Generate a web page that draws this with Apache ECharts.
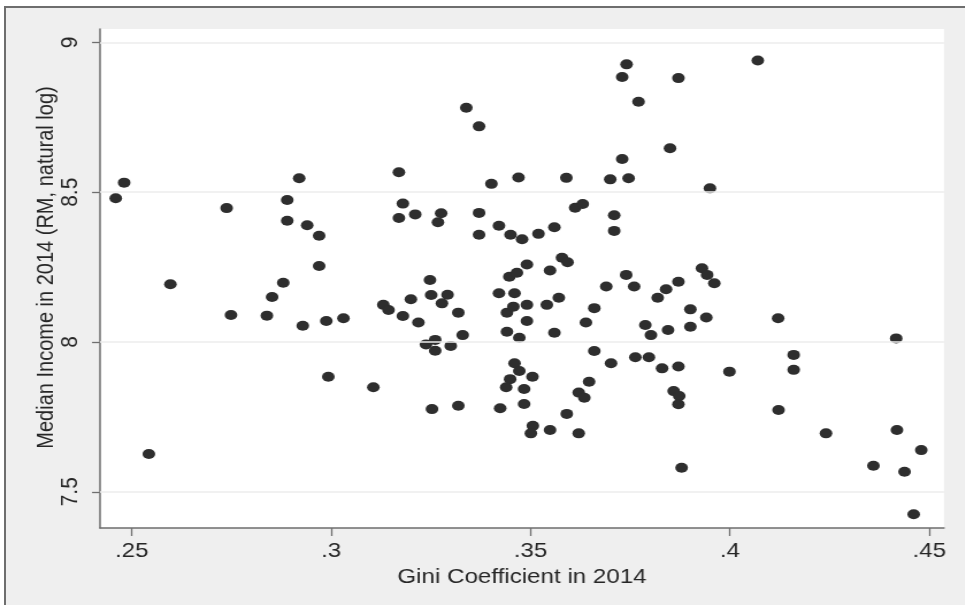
<!DOCTYPE html>
<html>
<head>
<meta charset="utf-8">
<script src="https://cdn.jsdelivr.net/npm/echarts@6/dist/echarts.min.js"></script>
<style>
html,body{margin:0;padding:0;background:#ffffff;overflow:hidden;width:965px;height:607px;}
#frame{position:absolute;left:4px;top:6px;width:961px;height:599px;background:#efefef;border-top:2px solid #6e6e6e;border-left:2px solid #6e6e6e;box-sizing:border-box;}
#chart{position:absolute;left:0;top:0;height:607px;transform-origin:0 0;}
</style>
</head>
<body>
<div id="frame"></div>
<div id="chart"></div>
<script>
// Gini coefficient in 2014 (x)
const giniValues = [
0.246,0.2481,0.2738,0.2597,0.289,0.292,0.289,0.294,0.297,0.297,
0.288,0.2852,0.2749,0.2839,0.2929,0.2988,0.2993,0.2543,0.3741,0.373,
0.3771,0.3339,0.3371,0.373,0.317,0.3402,0.347,0.359,0.37,0.3746,
0.318,0.317,0.3211,0.3276,0.3268,0.3371,0.3371,0.3421,0.345,0.3479,
0.352,0.356,0.3612,0.3631,0.371,0.371,0.3491,0.3447,0.3466,0.3549,
0.3579,0.3593,0.3248,0.32,0.3251,0.3292,0.3278,0.3131,0.3144,0.3421,
0.346,0.374,0.376,0.369,0.407,0.3871,0.385,0.395,0.393,0.3943,
0.3961,0.3871,0.384,0.3819,0.318,0.3219,0.3319,0.333,0.3031,0.3238,
0.3261,0.3261,0.33,0.3106,0.3253,0.3319,0.3424,0.3484,0.3441,0.3457,
0.3491,0.3541,0.3571,0.3491,0.3441,0.3472,0.356,0.3639,0.366,0.366,
0.3702,0.3763,0.3797,0.346,0.3472,0.3449,0.3439,0.3505,0.3484,0.3647,
0.3621,0.3635,0.3591,0.3506,0.3501,0.3549,0.3621,0.3901,0.3941,0.3901,
0.3845,0.3788,0.3802,0.383,0.3871,0.3859,0.3873,0.3871,0.3879,0.3999,
0.4121,0.416,0.416,0.4122,0.4241,0.4417,0.4419,0.448,0.436,0.4438,
0.4461
];
// Median income in 2014 (RM, natural log) (y)
const incomeValues = [
8.480,8.532,8.447,8.193,8.474,8.547,8.405,8.390,8.355,8.254,
8.198,8.150,8.090,8.088,8.054,8.070,7.884,7.626,8.927,8.885,
8.802,8.782,8.720,8.611,8.567,8.528,8.549,8.548,8.543,8.547,
8.462,8.414,8.426,8.430,8.400,8.431,8.358,8.388,8.358,8.343,
8.361,8.383,8.448,8.461,8.423,8.371,8.259,8.218,8.231,8.239,
8.281,8.266,8.207,8.143,8.157,8.158,8.129,8.124,8.107,8.163,
8.163,8.224,8.185,8.185,8.940,8.881,8.647,8.513,8.246,8.224,
8.196,8.201,8.176,8.148,8.087,8.065,8.098,8.023,8.079,7.992,
8.007,7.971,7.987,7.849,7.776,7.787,7.779,7.793,8.098,8.118,
8.124,8.124,8.148,8.070,8.034,8.014,8.031,8.065,8.113,7.970,
7.929,7.949,7.949,7.929,7.903,7.876,7.849,7.884,7.843,7.867,
7.831,7.814,7.760,7.720,7.695,7.706,7.695,8.109,8.082,8.051,
8.040,8.057,8.023,7.912,7.918,7.836,7.820,7.792,7.580,7.901,
8.079,7.957,7.907,7.773,7.695,8.012,7.706,7.639,7.587,7.567,
7.425
];
const xTicks = [0.25, 0.3, 0.35, 0.4, 0.45];
const yTicks = [7.5, 8, 8.5, 9];
const xTitle = 'Gini Coefficient in 2014';
const yTitle = 'Median Income in 2014 (RM, natural log)';

const S = 1.15;
const W = 965 / S;
const el = document.getElementById('chart');
el.style.width = W + 'px';
el.style.transform = 'scaleX(' + S + ')';

const points = giniValues.map((g, i) => [g, incomeValues[i]]);
const fmt = v => String(v).replace(/^0\./, '.');
const axisCol = '#6e6e6e';
const textCol = '#262626';
const font = '"Liberation Sans", Arial, sans-serif';

const chart = echarts.init(el, null, {renderer: 'canvas', width: W, height: 607});
chart.setOption({
  animation: false,
  backgroundColor: 'transparent',
  grid: {
    left: 100 / S, right: W - 944 / S, top: 29, bottom: 79,
    show: true, backgroundColor: '#ffffff', borderWidth: 0
  },
  xAxis: {
    type: 'value', min: 0.24205, max: 0.4537,
    name: xTitle, nameLocation: 'middle', nameGap: 32,
    nameTextStyle: {fontFamily: font, fontSize: 21, color: textCol},
    axisLine: {show: true, onZero: false, lineStyle: {color: axisCol, width: 1.5}},
    axisTick: {show: true, length: 8, customValues: xTicks, lineStyle: {color: axisCol, width: 1.3}},
    axisLabel: {customValues: xTicks, formatter: fmt, margin: 13, fontFamily: font, fontSize: 21, color: textCol},
    splitLine: {show: false}
  },
  yAxis: {
    type: 'value', min: 7.379, max: 9.045,
    name: yTitle, nameLocation: 'middle', nameGap: 36, nameMoveOverlap: false,
    nameTextStyle: {fontFamily: font, fontSize: 20, color: textCol, padding: [0, 0, 0, 22]},
    axisLine: {show: true, onZero: false, lineStyle: {color: axisCol, width: 1.5}},
    axisTick: {show: true, length: 8 / S, customValues: yTicks, lineStyle: {color: axisCol, width: 1.3}},
    axisLabel: {customValues: yTicks, rotate: 90, margin: 15, formatter: v => String(v), fontFamily: font, fontSize: 21, color: textCol},
    splitLine: {show: false}
  },
  series: [{
    type: 'scatter',
    data: points,
    symbol: 'circle',
    symbolSize: [11, 10],
    itemStyle: {color: '#2e2e2e', opacity: 1},
    z: 3,
    markLine: {
      silent: true, symbol: 'none', animation: false,
      label: {show: false},
      lineStyle: {color: '#ececec', width: 1.5, type: 'solid'},
      data: yTicks.map(v => ({yAxis: v}))
    }
  }]
});
</script>
</body>
</html>
